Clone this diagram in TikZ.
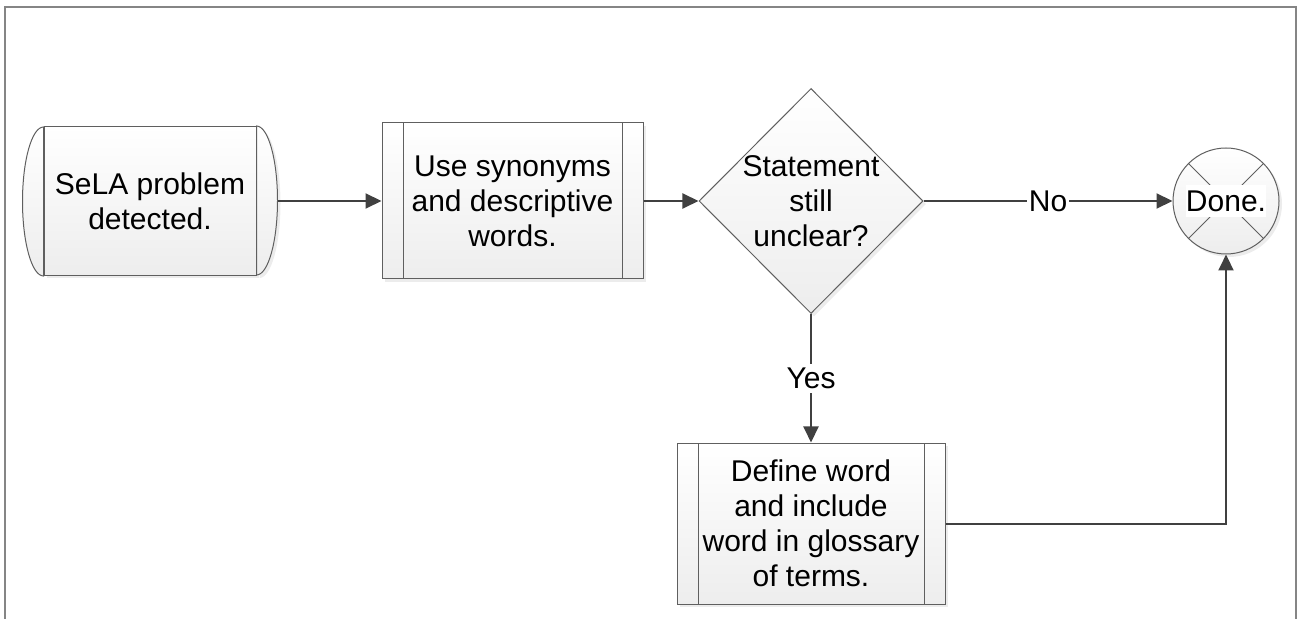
\documentclass[tikz,border=0pt]{standalone}
\usepackage{fontspec}
\setmainfont{Liberation Sans}
\usetikzlibrary{arrows.meta,shapes.geometric,shadows}
\definecolor{linegray}{HTML}{404040}
\definecolor{edgegray}{HTML}{5F5F5F}
\definecolor{framegray}{HTML}{858585}
\tikzset{
         arcfill/.style={draw=edgegray,line width=0.5pt,top color=white,bottom color=gray!14},
         shadebox/.style={arcfill,drop shadow={shadow xshift=1.5pt,shadow yshift=-1.5pt,opacity=0.15}},
         procbox/.style=
          {
           shadebox,rectangle,align=center,inner sep=0pt,
           path picture=
            {
             \draw[edgegray,line width=0.5pt]([xshift=10.5pt]path picture bounding box.north west)--([xshift=10.5pt]path picture bounding box.south west);
             \draw[edgegray,line width=0.5pt]([xshift=-10.5pt]path picture bounding box.north east)--([xshift=-10.5pt]path picture bounding box.south east);
            }
          },
         flow/.style={linegray,line width=1pt,-{Triangle[length=8pt,width=7.5pt]}},
         flowlabel/.style={fill=white,text=black,inner xsep=1pt,inner ysep=2pt}
        }

\begin{document}
\begin{tikzpicture}[x=0.5pt,y=-0.5pt,every node/.style={font=\fontsize{15}{17.5}\selectfont}]
\useasboundingbox(0,0)rectangle(1299,619);
%frame
\draw[framegray,line width=1pt](5,619)--(5,7)--(1296,7)--(1296,619);
%shapes
\node[shadebox,rectangle,align=center,inner sep=0pt,minimum width=106pt,minimum height=74.5pt](detect)at(150,201){SeLA problem\\detected.};
\path[arcfill](detect.south west)arc[start angle=270,end angle=90,x radius=10.5pt,y radius=37.25pt]--cycle;
\path[shadebox](detect.north east)arc[start angle=90,end angle=-90,x radius=10.5pt,y radius=37.25pt]--cycle;
\coordinate(detect out)at([xshift=10.5pt]detect.east);
\node[procbox,minimum width=130.5pt,minimum height=78pt](synonyms)at(512.5,201){Use synonyms\\and descriptive\\words.};
\node[shadebox,diamond,inner sep=0pt,minimum width=112pt,minimum height=112.5pt,
      label={[name=check text,align=center]center:Statement\\still\\unclear?}](check)at(811,201){};
\node[shadebox,circle,inner sep=0pt,minimum size=53pt,
      path picture={\draw[edgegray,line width=0.5pt](path picture bounding box.north west)--(path picture bounding box.south east)
                    (path picture bounding box.north east)--(path picture bounding box.south west);},
      label={[name=done text,fill=white,inner xsep=0pt,inner ysep=3pt]center:Done.}](done)at(1226,201){};
\node[procbox,minimum width=134pt,minimum height=80.5pt](define)at(811,523.5){Define word\\and include\\word in glossary\\of terms.};
%arrows
\draw[flow](detect out)--(synonyms);
\draw[flow](synonyms)--(check);
\draw[flow](check)--node[flowlabel](no){No}(done);
\draw[flow](check)--node[flowlabel](yes){Yes}(define);
\draw[flow](define)-|(done);
\end{tikzpicture}
\end{document}
